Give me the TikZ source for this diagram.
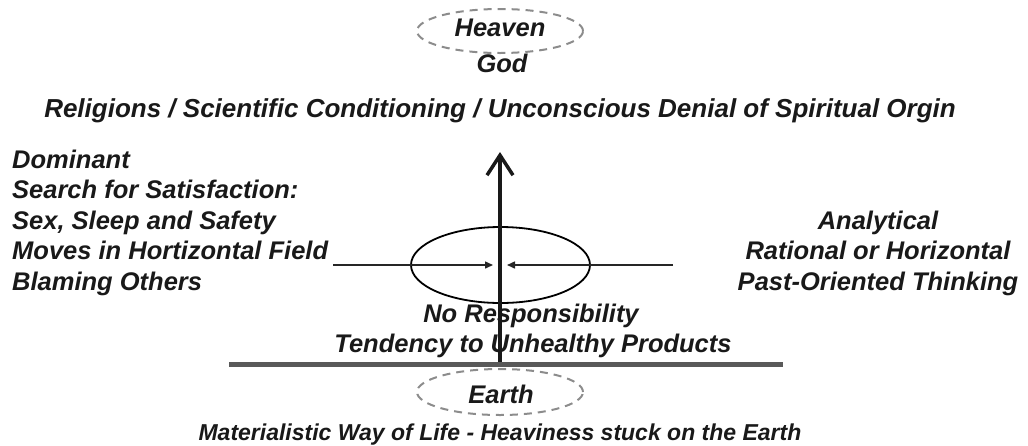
\documentclass[tikz,border=0pt]{standalone}
\usepackage{fontspec}
\setmainfont{Liberation Sans}
\usetikzlibrary{arrows.meta,shapes.geometric}
\begin{document}
\begin{tikzpicture}[x=1pt,y=-1pt,
  lbl/.style={font=\fontsize{25.5}{30}\selectfont\bfseries\itshape, inner sep=0pt, text=black!90},
  biglbl/.style={font=\fontsize{26}{30}\selectfont\bfseries\itshape, inner sep=0pt, text=black!90},
  smalllbl/.style={font=\fontsize{23}{28}\selectfont\bfseries\itshape, inner sep=0pt, text=black!90},
  ring/.style={draw=black!45, ellipse, line width=2pt, dash pattern=on 8pt off 6pt, inner sep=0pt},
  orbit/.style={draw=black, ellipse, line width=1.8pt, inner sep=0pt},
  axis/.style={draw=black!90, line width=3.5pt, -{Straight Barb[length=20pt,width=26pt]}},
  field/.style={draw=black!85, line width=1.5pt, -{Triangle[length=8pt,width=7pt]}},
  ground/.style={draw=black!65, line width=4.5pt}
]
\useasboundingbox (0,0) rectangle (1028,445);

% Heaven / God
\node[ring, minimum width=166pt, minimum height=44pt] (heavenring) at (500,31) {};
\node[lbl, anchor=base] (heaven) at (500,36) {Heaven};
\node[lbl, anchor=base] (god) at (502,72) {God};

% top line
\node[biglbl, anchor=base] (religions) at (500,117) {Religions / Scientific Conditioning / Unconscious Denial of Spiritual Orgin};

% left block
\node[lbl, anchor=base west] (l1) at (12,168) {Dominant};
\node[lbl, anchor=base west] (l2) at (12,198.5) {Search for Satisfaction:};
\node[lbl, anchor=base west] (l3) at (12,229) {Sex, Sleep and Safety};
\node[lbl, anchor=base west] (l4) at (12,259.5) {Moves in Hortizontal Field};
\node[lbl, anchor=base west] (l5) at (12,290) {Blaming Others};

% right block
\node[lbl, anchor=base] (r1) at (878,229) {Analytical};
\node[lbl, anchor=base] (r2) at (878,259.5) {Rational or Horizontal};
\node[lbl, anchor=base] (r3) at (878,290) {Past-Oriented Thinking};

% central figure
\coordinate (hleft) at (333,265);
\coordinate (hright) at (673,265);
\coordinate (cleft) at (493,265);
\coordinate (cright) at (507,265);
\coordinate (gleft) at (229,364.5);
\coordinate (gright) at (783,364.5);
\coordinate (axisbase) at (500,363);
\coordinate (axistop) at (500,152);

\node[orbit, minimum width=179pt, minimum height=76pt] (orbitring) at (500.5,265) {};
\draw[field] (hleft) -- (cleft);
\draw[field] (hright) -- (cright);
\draw[axis] (axisbase) -- (axistop);

% texts under the orbit
\node[lbl, anchor=base] (noresp) at (531,322) {No Responsibility};
\node[lbl, anchor=base] (tend) at (533,352) {Tendency to Unhealthy Products};

% ground
\draw[ground] (gleft) -- (gright);

% Earth
\node[ring, minimum width=166pt, minimum height=46pt] (earthring) at (500,392) {};
\node[lbl, anchor=base] (earth) at (501,403) {Earth};

\node[smalllbl, anchor=base] (material) at (500,440) {Materialistic Way of Life - Heaviness stuck on the Earth};
\end{tikzpicture}
\end{document}
